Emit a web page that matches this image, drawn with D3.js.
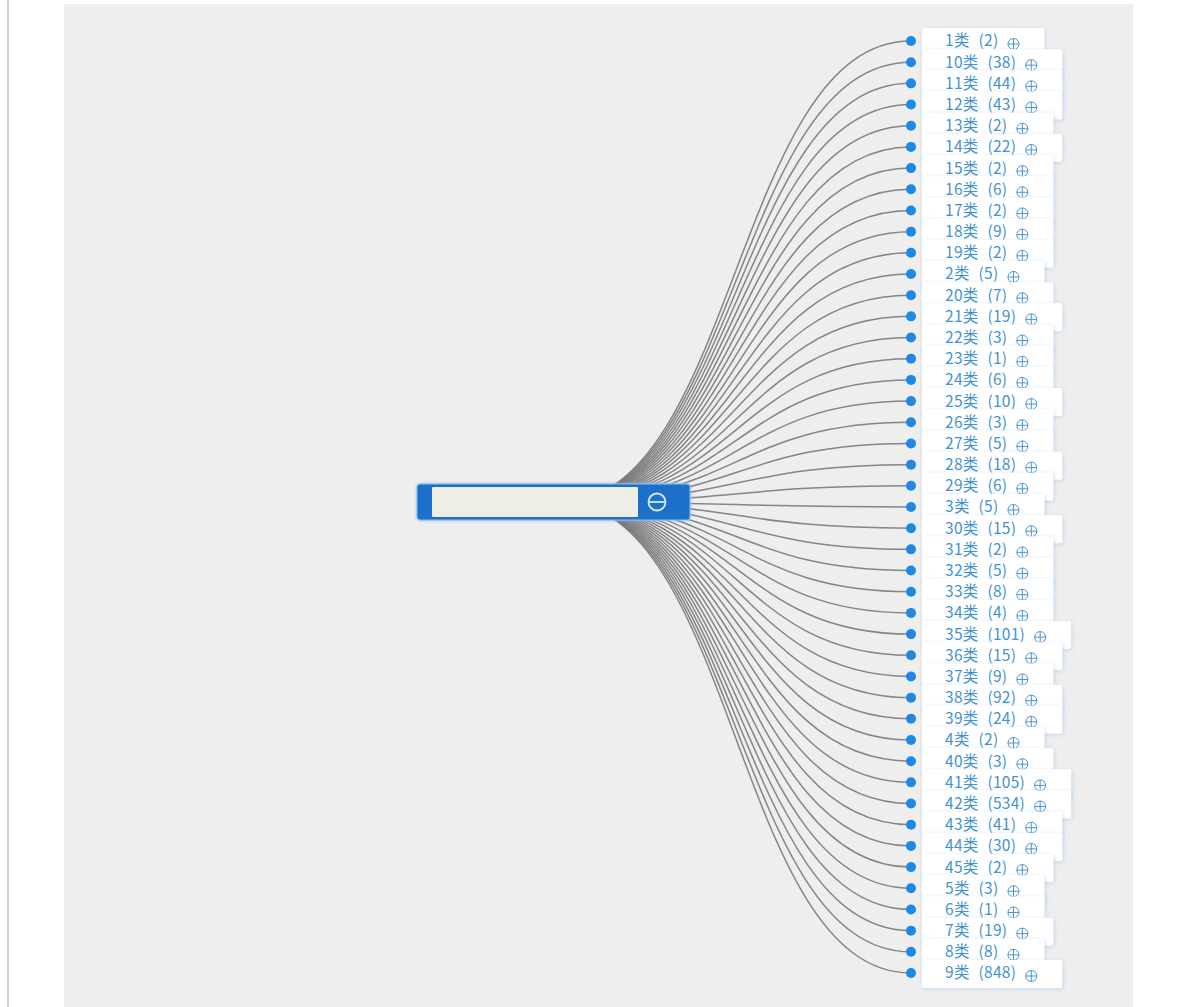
<!DOCTYPE html>
<html>
<head>
<meta charset="utf-8">
<script src="https://cdn.jsdelivr.net/npm/d3@7"></script>
<style>
  html, body { margin: 0; padding: 0; background: #ffffff; }
  svg { display: block; }
</style>
</head>
<body>
<svg id="chart" width="1189" height="1007"></svg>
<script>
const categories = ["1","10","11","12","13","14","15","16","17","18","19","2","20","21","22","23","24","25","26","27","28","29","3","30","31","32","33","34","35","36","37","38","39","4","40","41","42","43","44","45","5","6","7","8","9"];
const counts = [2,38,44,43,2,22,2,6,2,9,2,5,7,19,3,1,6,10,3,5,18,6,5,15,2,5,8,4,101,15,9,92,24,2,3,105,534,41,30,2,3,1,19,8,848];
const suffix = "类";

const svg = d3.select("#chart");
const W = 1189, H = 1007;

// page chrome
svg.append("rect").attr("x", 0).attr("y", 0).attr("width", W).attr("height", H).attr("fill", "#ffffff");
svg.append("rect").attr("x", 7).attr("y", 0).attr("width", 2).attr("height", H).attr("fill", "#d0d0d0");
svg.append("rect").attr("x", 64).attr("y", 4).attr("width", 1069).attr("height", H - 4).attr("fill", "#eeeeee");

const defs = svg.append("defs");
const f = defs.append("filter").attr("id", "shadow").attr("x", "-20%").attr("y", "-40%").attr("width", "140%").attr("height", "180%");
f.append("feDropShadow").attr("dx", 1).attr("dy", 1).attr("stdDeviation", 2)
  .attr("flood-color", "#9fc3e6").attr("flood-opacity", 0.55);
const g2 = defs.append("filter").attr("id", "glow").attr("x", "-10%").attr("y", "-40%").attr("width", "120%").attr("height", "180%");
g2.append("feDropShadow").attr("dx", 0).attr("dy", 0).attr("stdDeviation", 1.5)
  .attr("flood-color", "#7fb8ee").attr("flood-opacity", 0.9);

const data = categories.map((c, i) => ({ cat: c, count: counts[i] }));

const y = d3.scalePoint().domain(categories).range([41, 973]);
const dotX = 911;
const root = { x: 560, y: 502 };

const link = d3.linkHorizontal().x(d => d[0]).y(d => d[1]);

svg.append("g").selectAll("path").data(data).join("path")
  .attr("d", d => link({ source: [root.x, root.y], target: [dotX, y(d.cat)] }))
  .attr("fill", "none")
  .attr("stroke", "#727272")
  .attr("stroke-opacity", 0.85)
  .attr("stroke-width", 1.5);

// root node
const rg = svg.append("g");
rg.append("rect").attr("x", 417).attr("y", 484).attr("width", 273).attr("height", 36).attr("rx", 3)
  .attr("fill", "#1a6fca").attr("stroke", "#8cc3f2").attr("stroke-width", 1).attr("filter", "url(#glow)");
rg.append("rect").attr("x", 432).attr("y", 487).attr("width", 206).attr("height", 30).attr("rx", 1)
  .attr("fill", "#eeede6");
rg.append("circle").attr("cx", 657).attr("cy", 502).attr("r", 8.5)
  .attr("fill", "none").attr("stroke", "#d6e8f8").attr("stroke-width", 1.8);
rg.append("line").attr("x1", 649).attr("x2", 665).attr("y1", 502).attr("y2", 502)
  .attr("stroke", "#d6e8f8").attr("stroke-width", 1.8);

// child nodes
const nodes = svg.append("g").selectAll("g").data(data).join("g")
  .attr("transform", d => `translate(0,${y(d.cat)})`);

nodes.each(function(d) {
  const g = d3.select(this);
  const box = g.append("rect").attr("x", 922).attr("y", -13).attr("height", 28).attr("rx", 2)
    .attr("fill", "#ffffff").attr("filter", "url(#shadow)");
  const t = g.append("text").attr("x", 945).attr("y", 0).attr("dy", "0.35em")
    .attr("font-family", "'Noto Sans CJK SC', 'Noto Sans', sans-serif")
    .attr("font-size", 15.5).attr("font-weight", 400).attr("fill", "#4392d0")
    .attr("letter-spacing", 0.3).attr("word-spacing", 5)
    .text(`${d.cat}${suffix} (${d.count})`);
  const tw = t.node().getComputedTextLength();
  const end = 945 + tw;
  box.attr("width", end + 46 - 922);
  const cx = end + 15, cy = 3, r = 5.5;
  g.append("circle").attr("cx", cx).attr("cy", cy).attr("r", r)
    .attr("fill", "none").attr("stroke", "#4a93cf").attr("stroke-width", 1);
  g.append("line").attr("x1", cx - r).attr("x2", cx + r).attr("y1", cy).attr("y2", cy)
    .attr("stroke", "#4a93cf").attr("stroke-width", 1);
  g.append("line").attr("x1", cx).attr("x2", cx).attr("y1", cy - r).attr("y2", cy + r)
    .attr("stroke", "#4a93cf").attr("stroke-width", 1);
  g.append("circle").attr("cx", dotX).attr("cy", 0).attr("r", 5)
    .attr("fill", "#1e88e5");
});
</script>
</body>
</html>
